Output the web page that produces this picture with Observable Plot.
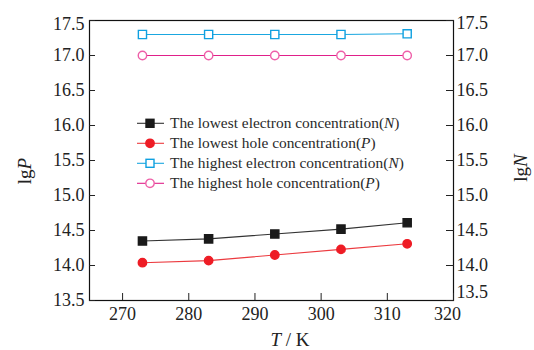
<!DOCTYPE html>
<html><head><meta charset="utf-8">
<script src="https://cdn.jsdelivr.net/npm/d3@7"></script>
<script src="https://cdn.jsdelivr.net/npm/@observablehq/plot@0.6"></script>
<style>body{margin:0;background:#fff} svg, svg text{font-family:"Liberation Serif","DejaVu Serif",serif !important}</style>
</head><body><div id="chart"></div>
<script>
const temps = [273, 283, 293, 303, 313];
const lowestElectron = [14.35, 14.38, 14.45, 14.52, 14.61];
const lowestHole = [14.04, 14.07, 14.15, 14.23, 14.31];
const highestElectron = [17.30, 17.30, 17.30, 17.30, 17.31];
const highestHole = [17.00, 17.00, 17.00, 17.00, 17.00];
const seriesLabels = [
  ["The lowest electron concentration(", "N", ")"],
  ["The lowest hole concentration(", "P", ")"],
  ["The highest electron concentration(", "N", ")"],
  ["The highest hole concentration(", "P", ")"]
];
const xTicks = [270, 280, 290, 300, 310, 320];
const yTicks = [13.5, 14.0, 14.5, 15.0, 15.5, 16.0, 16.5, 17.0, 17.5];

const SERIF = "Liberation Serif, DejaVu Serif, serif";
const styles = [
  {line: "#333", symbol: "square", fill: "#1a1a1a", stroke: "#1a1a1a", r: 4.6},
  {line: "#ec3a3f", symbol: "circle", fill: "#ee1c25", stroke: "#ee1c25", r: 4.2},
  {line: "#1aa7e0", symbol: "square", fill: "white", stroke: "#0fa0e0", r: 4.6},
  {line: "#e0208a", symbol: "circle", fill: "white", stroke: "#ee5fa8", r: 4.2}
];
const seriesValues = [lowestElectron, lowestHole, highestElectron, highestHole];
const rows = seriesValues.flatMap((vals, s) => vals.map((v, i) => ({s, T: temps[i], v})));

const fmt = d3.format(".1f");
const yMid = yTicks.slice(1, -1);
const yLo = yTicks[0], yHi = yTicks[yTicks.length - 1];
const xMain = xTicks.slice(0, -1), xLast = xTicks[xTicks.length - 1];

const marks = [Plot.frame({stroke: "#111", strokeWidth: 1.2})];
seriesValues.forEach((vals, s) => {
  const d = rows.filter(r => r.s === s);
  const st = styles[s];
  marks.push(Plot.line(d, {x: "T", y: "v", stroke: st.line, strokeWidth: 1.1}));
  marks.push(Plot.dot(d, {x: "T", y: "v", symbol: st.symbol, r: st.r, fill: st.fill, stroke: st.stroke, strokeWidth: 1.4}));
});
const txt = {tickSize: 0, fontSize: 18, label: null, fill: "#222"};
marks.push(
  Plot.axisX({...txt, ticks: xMain, tickPadding: 7}),
  Plot.axisX({...txt, ticks: [xLast], tickPadding: 7, dx: -6}),
  Plot.axisX({ticks: xTicks, tickSize: -7, text: null, label: null}),
  Plot.axisY({...txt, ticks: yMid, tickPadding: 5, tickFormat: fmt}),
  Plot.axisY({...txt, ticks: [yLo], tickPadding: 5, tickFormat: fmt}),
  Plot.axisY({...txt, ticks: [yHi], tickPadding: 5, tickFormat: fmt, dy: 4}),
  Plot.axisY({ticks: yTicks, tickSize: -6, text: null, label: null}),
  Plot.axisY({...txt, anchor: "right", ticks: yMid, tickPadding: 3, tickFormat: fmt}),
  Plot.axisY({...txt, anchor: "right", ticks: [yLo], tickPadding: 3, tickFormat: fmt, dy: -8}),
  Plot.axisY({...txt, anchor: "right", ticks: [yHi], tickPadding: 3, tickFormat: fmt, dy: 2.5}),
  Plot.axisY({anchor: "right", ticks: yTicks, tickSize: -8, text: null, label: null})
);

const chart = Plot.plot({
  width: 534, height: 350,
  marginLeft: 89, marginRight: 81, marginTop: 20, marginBottom: 50,
  style: {color: "#222", background: "white"},
  x: {domain: [265, 320]},
  y: {domain: [13.5, 17.5]},
  marks
});
chart.style.fontFamily = SERIF;
document.getElementById("chart").appendChild(chart);

const svg = d3.select(chart);
svg.selectAll("text").attr("font-family", SERIF);
// axis titles
const xt = svg.append("text").attr("x", 290).attr("y", 346).attr("text-anchor", "middle")
  .attr("font-size", 19).attr("fill", "#222").attr("font-family", SERIF);
xt.append("tspan").attr("font-style", "italic").text("T");
xt.append("tspan").text(" / K");
function yTitle(x, y, letter) {
  const t = svg.append("text").attr("transform", `translate(${x},${y}) rotate(-90)`)
    .attr("text-anchor", "middle").attr("font-size", 19).attr("fill", "#222").attr("font-family", SERIF);
  t.append("tspan").text("lg");
  t.append("tspan").attr("font-style", "italic").text(letter);
}
yTitle(31, 171, "P");
yTitle(527, 168, "N");

// legend
const lg = svg.append("g").attr("transform", "translate(137,123.3)").attr("text-anchor", "start");
seriesLabels.forEach((lab, i) => {
  const st = styles[i];
  const g = lg.append("g").attr("transform", `translate(0,${i * 20})`);
  g.append("line").attr("x1", 0).attr("x2", 27).attr("y1", 0).attr("y2", 0).attr("stroke", st.line).attr("stroke-width", 1.1);
  if (st.symbol === "square") {
    g.append("rect").attr("x", 13 - 4).attr("y", -4).attr("width", 8).attr("height", 8)
      .attr("fill", st.fill).attr("stroke", st.stroke).attr("stroke-width", 1.4);
  } else {
    g.append("circle").attr("cx", 13).attr("cy", 0).attr("r", 4.2)
      .attr("fill", st.fill).attr("stroke", st.stroke).attr("stroke-width", 1.4);
  }
  const t = g.append("text").attr("x", 33).attr("y", 5).attr("text-anchor", "start").attr("font-size", 15.4)
    .attr("fill", "#2a2a2a").attr("font-family", SERIF);
  t.append("tspan").text(lab[0]);
  t.append("tspan").attr("font-style", "italic").text(lab[1]);
  t.append("tspan").text(lab[2]);
});
</script></body></html>
